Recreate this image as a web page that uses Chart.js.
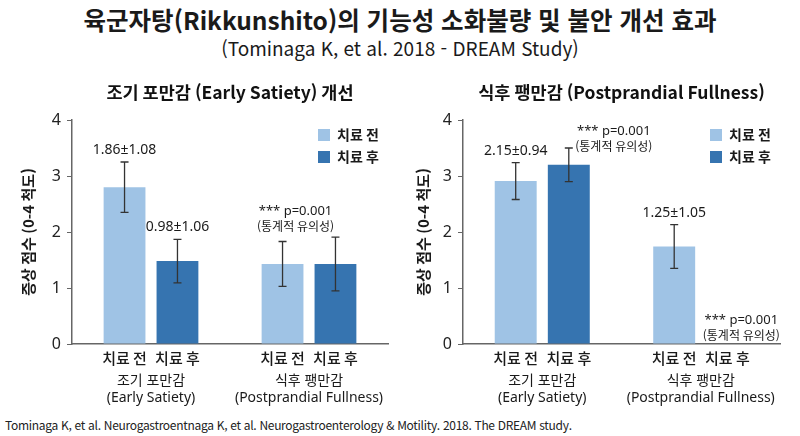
<!DOCTYPE html>
<html lang="ko">
<head>
<meta charset="utf-8">
<title>육군자탕 DREAM Study</title>
<script src="https://cdn.jsdelivr.net/npm/chart.js@4.4.1/dist/chart.umd.min.js"></script>
<style>
  body {
    margin: 0;
    width: 800px;
    height: 436px;
    background: #fff;
    position: relative;
    overflow: hidden;
    color: #1a1a1a;
    font-family: "Noto Sans CJK KR", "Noto Sans", sans-serif;
  }
  #title {
    position: absolute; top: 4px; left: 0; width: 800px;
    text-align: center; font-size: 24.5px; font-weight: bold; line-height: 32px;
  }
  #subtitle {
    position: absolute; top: 34px; left: 0; width: 800px;
    text-align: center; font-size: 19px; line-height: 28px;
  }
  .panel { position: absolute; top: 70px; width: 400px; height: 340px; }
  #left { left: 0; }
  #right { left: 400px; }
  #footnote {
    position: absolute; left: 5px; top: 416px;
    font-size: 12px; line-height: 18px; letter-spacing: -0.3px; color: #222;
  }
</style>
</head>
<body>
<div id="title">육군자탕(Rikkunshito)의 기능성 소화불량 및 불안 개선 효과</div>
<div id="subtitle">(Tominaga K, et al. 2018 - DREAM Study)</div>
<div class="panel" id="left"><canvas id="earlySatietyChart"></canvas></div>
<div class="panel" id="right"><canvas id="fullnessChart"></canvas></div>
<div id="footnote">Tominaga K, et al. Neurogastroentnaga K, et al. Neurogastroenterology &amp; Motility. 2018. The DREAM study.</div>

<script>
// categories / series
const groupLabels = [['조기 포만감', '(Early Satiety)'], ['식후 팽만감', '(Postprandial Fullness)']];
const seriesNames = ['치료 전', '치료 후'];
const yMin = 0;
const yMax = 4;
const yStep = 1;

// 조기 포만감 (Early Satiety) panel
const esBefore = [2.80, 1.43];
const esAfter = [1.48, 1.43];
const esBeforeErr = [0.45, 0.40];
const esAfterErr = [0.39, 0.48];
const esBeforeText = ['1.86±1.08', null];
const esAfterText = ['0.98±1.06', null];

// 식후 팽만감 (Postprandial Fullness) panel
const pfBefore = [2.91, 1.74];
const pfAfter = [3.20, null];
const pfBeforeErr = [0.33, 0.39];
const pfAfterErr = [0.30, null];
const pfBeforeText = ['2.15±0.94', '1.25±1.05'];
const pfAfterText = [null, null];

const pText = ['*** p=0.001', '(통계적 유의성)'];

const lightBlue = '#9fc3e5';
const darkBlue = '#3674b0';
const axisGray = '#666';
const FONT = "'Noto Sans CJK KR', 'Noto Sans', sans-serif";
const LATIN = "'Noto Sans', 'Noto Sans CJK KR', sans-serif";

Chart.defaults.font.family = FONT;
Chart.defaults.color = '#1a1a1a';

// error bars, value labels, sub labels, notes and legend
const barExtras = {
    id: 'barExtras',
    afterDatasetsDraw(chart, args, opts) {
        const ctx = chart.ctx;
        const yScale = chart.scales.y;
        const xScale = chart.scales.x;
        const area = chart.chartArea;
        const barX = (i, j) => {
            const el = chart.getDatasetMeta(i).data[j];
            if (el && isFinite(el.x)) return el.x;
            return xScale.getPixelForValue(j) + (i === 0 ? -26 : 26);
        };

        ctx.save();
        chart.data.datasets.forEach((ds, i) => {
            ds.data.forEach((v, j) => {
                const x = barX(i, j);
                // sub label under every slot
                ctx.fillStyle = '#1a1a1a';
                ctx.font = '500 15px ' + FONT;
                ctx.textAlign = 'center';
                ctx.textBaseline = 'middle';
                ctx.fillText(ds.label, x, area.bottom + 14);

                if (v == null) return;
                const e = ds.errors[j];
                const top = yScale.getPixelForValue(v + e);
                const bot = yScale.getPixelForValue(v - e);
                ctx.strokeStyle = '#333';
                ctx.lineWidth = 1.3;
                ctx.beginPath();
                ctx.moveTo(x, top); ctx.lineTo(x, bot);
                ctx.moveTo(x - 4, top); ctx.lineTo(x + 4, top);
                ctx.moveTo(x - 4, bot); ctx.lineTo(x + 4, bot);
                ctx.stroke();

                if (ds.valueText[j]) {
                    ctx.font = '14px ' + LATIN;
                    ctx.fillText(ds.valueText[j], x, top - 12);
                }
            });
        });

        // p-value notes
        (opts.notes || []).forEach(n => {
            const x = barX(n.ds, n.idx) + n.dx;
            let base;
            const v = chart.data.datasets[n.ds].data[n.idx];
            if (n.base === 'err' && v != null) {
                base = yScale.getPixelForValue(v + chart.data.datasets[n.ds].errors[n.idx]);
            } else {
                base = area.bottom;
            }
            ctx.fillStyle = '#1a1a1a';
            ctx.textAlign = 'center';
            ctx.textBaseline = 'middle';
            ctx.font = '13px ' + LATIN;
            ctx.fillText(pText[0], x, base + n.dy);
            ctx.font = '12px ' + FONT;
            ctx.fillText(pText[1], x, base + n.dy + 15);
        });

        // legend inside chart area
        chart.data.datasets.forEach((ds, i) => {
            const lx = area.right - 70;
            const ly = area.top + 15 + i * 22;
            ctx.fillStyle = ds.backgroundColor;
            ctx.fillRect(lx, ly - 6, 12, 12);
            ctx.fillStyle = '#1a1a1a';
            ctx.font = 'bold 14px ' + FONT;
            ctx.textAlign = 'left';
            ctx.textBaseline = 'middle';
            ctx.fillText(ds.label, lx + 19, ly);
        });
        ctx.restore();
    }
};

function makeChart(canvasId, panelTitle, before, after, beforeErr, afterErr, beforeText, afterText, layoutOpt, notes) {
    const ctx = document.getElementById(canvasId).getContext('2d');
    return new Chart(ctx, {
        type: 'bar',
        data: {
            labels: groupLabels,
            datasets: [
                {
                    label: seriesNames[0],
                    data: before,
                    errors: beforeErr,
                    valueText: beforeText,
                    backgroundColor: lightBlue,
                    categoryPercentage: 0.67,
                    barPercentage: 0.79
                },
                {
                    label: seriesNames[1],
                    data: after,
                    errors: afterErr,
                    valueText: afterText,
                    backgroundColor: darkBlue,
                    categoryPercentage: 0.67,
                    barPercentage: 0.79
                }
            ]
        },
        options: {
            responsive: true,
            maintainAspectRatio: false,
            animation: false,
            layout: { padding: { left: 0, right: layoutOpt.right, top: 0, bottom: 0 } },
            plugins: {
                legend: { display: false },
                tooltip: { enabled: false },
                title: {
                    display: true,
                    text: panelTitle,
                    fullSize: false,
                    color: '#111',
                    font: { size: 17.5, weight: 'bold', lineHeight: 1.2 },
                    padding: { top: 12, bottom: 17 }
                },
                barExtras: { notes: notes }
            },
            scales: {
                x: {
                    grid: { display: false, drawTicks: false },
                    border: { display: true, color: axisGray, width: 1.5 },
                    ticks: {
                        padding: 28,
                        maxRotation: 0,
                        minRotation: 0,
                        autoSkip: false,
                        color: '#1a1a1a',
                        font: { size: 14, lineHeight: 1.25, family: LATIN }
                    },
                    afterFit(scale) {
                        scale.height = 66;
                        scale.paddingLeft = 0;
                        scale.paddingRight = 0;
                    }
                },
                y: {
                    min: yMin,
                    max: yMax,
                    ticks: { stepSize: yStep, padding: 6, color: '#222', font: { size: 16, family: LATIN } },
                    grid: { display: true, drawOnChartArea: false, drawTicks: true, tickLength: 5, color: axisGray },
                    border: { display: true, color: axisGray, width: 1.5 },
                    title: {
                        display: true,
                        text: '증상 점수 (0-4 척도)',
                        color: '#1a1a1a',
                        font: { size: 15, weight: 'bold' },
                        padding: { top: layoutOpt.titlePad, bottom: 0 }
                    },
                    afterFit(scale) { scale.width = layoutOpt.yWidth; }
                }
            }
        },
        plugins: [barExtras]
    });
}

document.addEventListener("DOMContentLoaded", function () {
    makeChart('earlySatietyChart', '조기 포만감 (Early Satiety) 개선',
        esBefore, esAfter, esBeforeErr, esAfterErr, esBeforeText, esAfterText,
        { right: 12, yWidth: 72, titlePad: 19 },
        [{ ds: 0, idx: 1, dx: 13, dy: -30, base: 'err' }]);

    makeChart('fullnessChart', '식후 팽만감 (Postprandial Fullness)',
        pfBefore, pfAfter, pfBeforeErr, pfAfterErr, pfBeforeText, pfAfterText,
        { right: 20, yWidth: 63, titlePad: 14 },
        [{ ds: 1, idx: 0, dx: 45, dy: -17, base: 'err' },
         { ds: 1, idx: 1, dx: 14, dy: -24, base: 'axis' }]);
});
</script>
</body>
</html>
